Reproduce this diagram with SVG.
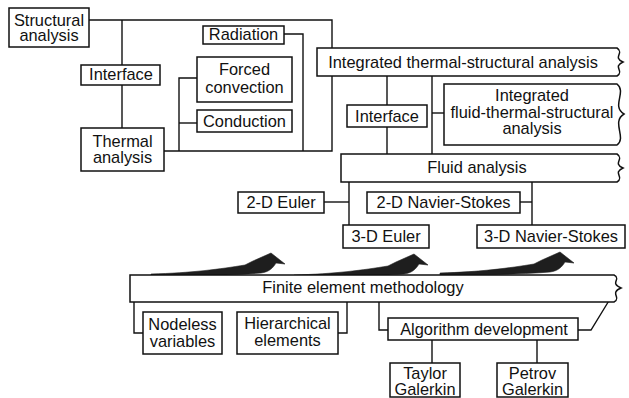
<svg xmlns="http://www.w3.org/2000/svg" width="629" height="398" viewBox="0 0 629 398">
<style>
text{font-family:"Liberation Sans",Arial,Helvetica,sans-serif;font-size:16.4px;fill:#111;text-anchor:middle}
.b{fill:#fff;stroke:#111;stroke-width:1.5}
.c{fill:none;stroke:#111;stroke-width:1.4}
.ar{fill:#1e1e1e;stroke:#1e1e1e;stroke-width:0.6;stroke-linejoin:round}
</style>
<defs>
<path id="arw" d="M -120,21 C -80,20 -50,16 -26,12 L -18,8 L 0,0 L 14,11 L 5,10 C 2,15 -2,19 -10,20 C -40,22.5 -80,23 -120,23 Z"/>
</defs>
<rect width="629" height="398" fill="#fff"/>
<g id="connectors">
<polyline class="c" points="89,20 332,20 332,151 164,151"/>
<line class="c" x1="122" y1="20" x2="122" y2="65"/>
<line class="c" x1="122" y1="85" x2="122" y2="128"/>
<polyline class="c" points="284,34 303,34 303,151"/>
<polyline class="c" points="197,78 179,78 179,151"/>
<line class="c" x1="179" y1="123" x2="197" y2="123"/>
<line class="c" x1="387" y1="76" x2="387" y2="105"/>
<line class="c" x1="387" y1="127" x2="387" y2="154"/>
<line class="c" x1="432" y1="76" x2="432" y2="154"/>
<line class="c" x1="432" y1="113" x2="444" y2="113"/>
<line class="c" x1="349" y1="182" x2="349" y2="225"/>
<line class="c" x1="324" y1="202" x2="349" y2="202"/>
<line class="c" x1="532" y1="182" x2="532" y2="225"/>
<line class="c" x1="520" y1="202" x2="532" y2="202"/>
<polyline class="c" points="134,302 134,333 143,333"/>
<polyline class="c" points="338,333 347,333 347,302"/>
<polyline class="c" points="379,302 379,330 388,330"/>
<polyline class="c" points="578,330 591,330 610,299"/>
<line class="c" x1="432" y1="340" x2="432" y2="363"/>
<line class="c" x1="537" y1="340" x2="537" y2="363"/>
</g>
<g id="arrows">
<use href="#arw" class="ar" transform="translate(271,253)"/>
<use href="#arw" class="ar" transform="translate(414,254)"/>
<use href="#arw" class="ar" transform="translate(560,252)"/>
</g>
<g id="structural"><rect class="b" x="9" y="8" width="80" height="39"/><text x="49" y="26">Structural</text><text x="49" y="41">analysis</text></g>
<g id="interface1"><rect class="b" x="81" y="65" width="79" height="20"/><text x="121" y="80">Interface</text></g>
<g id="thermal"><rect class="b" x="81" y="128" width="83" height="43"/><text x="122.5" y="147">Thermal</text><text x="122.5" y="163">analysis</text></g>
<g id="radiation"><rect class="b" x="203" y="26" width="81" height="18"/><text x="243.5" y="40">Radiation</text></g>
<g id="forced"><rect class="b" x="197" y="57" width="95" height="45"/><text x="244.5" y="75">Forced</text><text x="244.5" y="93">convection</text></g>
<g id="conduction"><rect class="b" x="197" y="110" width="95" height="22"/><text x="244.5" y="127">Conduction</text></g>
<g id="its"><path class="b" d="M617,48 H317 V76 H617 C625,71 612,67 623,62 C612,57 625,53 617,48 Z"/><text x="463" y="68">Integrated thermal-structural analysis</text></g>
<g id="interface2"><rect class="b" x="347" y="105" width="80" height="22"/><text x="387" y="122">Interface</text></g>
<g id="ifts"><path class="b" d="M617,84 H444 V145 H617 C627,138 611,122 624,114 C611,106 627,92 617,84 Z"/><text x="532" y="101">Integrated</text><text x="532" y="118">fluid-thermal-structural</text><text x="532" y="134">analysis</text></g>
<g id="fluid"><path class="b" d="M617,154 H341 V182 H617 C625,177 612,173 623,168 C612,163 625,159 617,154 Z"/><text x="477" y="173">Fluid analysis</text></g>
<g id="euler2"><rect class="b" x="238" y="192" width="86" height="21"/><text x="281" y="208">2-D Euler</text></g>
<g id="ns2"><rect class="b" x="367" y="192" width="153" height="21"/><text x="443.5" y="208">2-D Navier-Stokes</text></g>
<g id="euler3"><rect class="b" x="343" y="225" width="86" height="23"/><text x="386" y="242">3-D Euler</text></g>
<g id="ns3"><rect class="b" x="477" y="225" width="148" height="23"/><text x="551" y="242">3-D Navier-Stokes</text></g>
<g id="fem"><path class="b" d="M614,275 H130 V302 H614 C622,298 609,293 621,288 C609,283 622,279 614,275 Z"/><text x="363" y="293">Finite element methodology</text></g>
<g id="nodeless"><rect class="b" x="143" y="312" width="79" height="42"/><text x="182.5" y="330">Nodeless</text><text x="182.5" y="347">variables</text></g>
<g id="hierarchical"><rect class="b" x="237" y="312" width="101" height="42"/><text x="287.5" y="329">Hierarchical</text><text x="287.5" y="346">elements</text></g>
<g id="algorithm"><rect class="b" x="388" y="318" width="190" height="22"/><text x="484" y="335">Algorithm development</text></g>
<g id="taylor"><rect class="b" x="390" y="363" width="70" height="34"/><text x="425" y="379">Taylor</text><text x="425" y="395">Galerkin</text></g>
<g id="petrov"><rect class="b" x="497" y="363" width="71" height="34"/><text x="532.5" y="379">Petrov</text><text x="532.5" y="395">Galerkin</text></g>
</svg>
